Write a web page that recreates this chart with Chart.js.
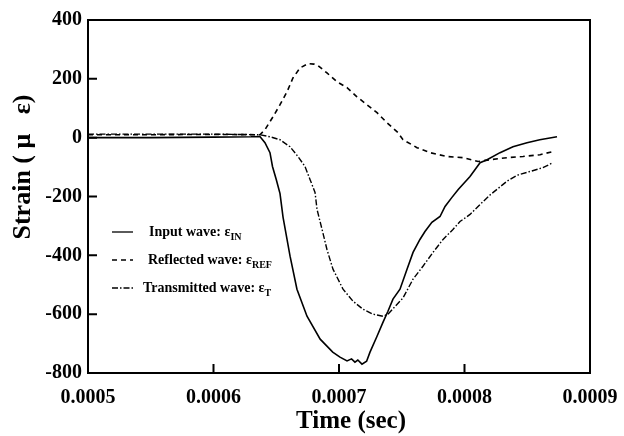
<!DOCTYPE html>
<html>
<head>
<meta charset="utf-8">
<script src="https://cdn.jsdelivr.net/npm/chart.js@4.4.0/dist/chart.umd.min.js"></script>
<style>
html,body{margin:0;padding:0;background:#fff}
</style>
</head>
<body>
<canvas id="c" width="624" height="436"></canvas>
<script>
// values
const inputTime = [0.0005,0.00055,0.0006,0.00063,0.000637,0.000641,0.000645,0.000647,0.00065,0.000653,0.0006554,0.000661,0.0006665,0.0006745,0.000685,0.000695,0.0007008,0.0007064,0.00071,0.0007127,0.000715,0.0007183,0.000722,0.0007247,0.0007303,0.0007351,0.000739,0.000743,0.0007486,0.0007542,0.000759,0.0007645,0.0007685,0.000774,0.0007805,0.0007845,0.00079,0.000795,0.0008044,0.0008124,0.000818,0.0008283,0.0008386,0.0008498,0.00086,0.0008737]
const inputStrain = [0,0,2,3,4,-17,-51,-98,-142,-190,-270,-403,-515,-607,-685,-729,-746,-759,-752,-763,-756,-770,-760,-729,-675,-627,-590,-549,-515,-447,-390,-346,-319,-288,-268,-234,-203,-176,-132,-85,-75,-51,-31,-17,-7,3]

const reflTime = [0.0005,0.00055,0.0006,0.000637,0.000641,0.0006474,0.000653,0.0006586,0.0006633,0.0006689,0.0006753,0.00068,0.0006833,0.0006904,0.0006984,0.0007064,0.0007143,0.0007223,0.0007303,0.0007382,0.000747,0.000751,0.0007622,0.0007725,0.000786,0.0007988,0.0008108,0.0008203,0.0008339,0.0008466,0.0008602,0.0008705]
const reflStrain = [10,10,11,10,27,71,112,156,203,237,252,250,245,220,190,170,139,112,85,51,17,-7,-34,-51,-64,-68,-81,-75,-68,-64,-58,-47]

const transTime = [0.0005,0.00055,0.0006,0.000637,0.000645,0.000653,0.000661,0.0006673,0.0006729,0.0006769,0.0006809,0.0006825,0.0006865,0.0006904,0.0006952,0.0007032,0.0007112,0.0007191,0.0007271,0.0007351,0.000739,0.000751,0.000759,0.0007669,0.0007749,0.0007829,0.0007908,0.0007964,0.0008044,0.0008124,0.0008203,0.0008339,0.0008418,0.0008522,0.0008625,0.0008705]
const transStrain = [12,12,12,10,3,-7,-31,-64,-98,-142,-186,-244,-312,-380,-447,-515,-556,-583,-600,-607,-600,-545,-481,-437,-390,-346,-312,-285,-261,-227,-195,-148,-128,-115,-102,-85]

const xTicks = [0.0005,0.0006,0.0007,0.0008,0.0009]
const yTicks = [-800,-600,-400,-200,0,200,400]

const legendLabels = ["Input wave: \u03b5","Reflected wave: \u03b5","Transmitted wave: \u03b5"]
const legendSubs = ["IN","REF","T"]

function pts(t,v){
    let out = []
    for (let i=0;i<t.length;i++){out.push({x:t[i],y:v[i]})}
    return out
}

const dashes = [[],[5,4],[6,2,1.5,2]]

const framePlugin = {
    id:"frame",
    afterDraw(chart){
        const ctx = chart.ctx
        const a = chart.chartArea
        const xs = chart.scales.x, ys = chart.scales.y
        ctx.save()
        ctx.strokeStyle = "#000"
        ctx.lineWidth = 2
        ctx.strokeRect(a.left,a.top,a.right-a.left,a.bottom-a.top)
        // inward ticks
        ctx.beginPath()
        for (let v of xTicks){
            let p = xs.getPixelForValue(v)
            ctx.moveTo(p,a.bottom); ctx.lineTo(p,a.bottom-9)
        }
        for (let v of yTicks){
            let p = ys.getPixelForValue(v)
            ctx.moveTo(a.left,p); ctx.lineTo(a.left+9,p)
        }
        ctx.stroke()

        ctx.fillStyle = "#000"
        ctx.font = "bold 20px 'Liberation Serif'"
        ctx.textAlign = "right"
        ctx.textBaseline = "middle"
        for (let v of yTicks){
            ctx.fillText(String(v),82,ys.getPixelForValue(v))
        }
        ctx.textAlign = "center"
        ctx.textBaseline = "alphabetic"
        for (let v of xTicks){
            ctx.fillText(v.toFixed(4),xs.getPixelForValue(v),403)
        }

        // axis titles
        ctx.font = "bold 25px 'Liberation Serif'"
        ctx.fillText("Time (sec)",351,428)
        ctx.save()
        ctx.translate(30,167)
        ctx.rotate(-Math.PI/2)
        ctx.font = "bold 26px 'Liberation Serif'"
        ctx.fillText("Strain ( \u03bc   \u03b5)",0,0)
        ctx.restore()

        // legend
        const rows = [232,260,288]
        const textX = [149,148,143]
        for (let i=0;i<3;i++){
            ctx.setLineDash(dashes[i])
            ctx.lineWidth = 1.3
            ctx.beginPath()
            ctx.moveTo(112,rows[i]); ctx.lineTo(133,rows[i])
            ctx.stroke()
            ctx.setLineDash([])
            ctx.textAlign = "left"
            ctx.font = "bold 14px 'Liberation Serif'"
            ctx.fillText(legendLabels[i],textX[i],rows[i]+4)
            let w = ctx.measureText(legendLabels[i]).width
            ctx.font = "bold 10px 'Liberation Serif'"
            ctx.fillText(legendSubs[i],textX[i]+w,rows[i]+8)
        }
        ctx.restore()
    }
}

const chart = new Chart(document.getElementById("c").getContext("2d"),{
    type:"line",
    data:{
        datasets:[
            {data:pts(inputTime,inputStrain),borderColor:"#000",borderWidth:1.6,borderDash:dashes[0]},
            {data:pts(reflTime,reflStrain),borderColor:"#000",borderWidth:1.6,borderDash:dashes[1]},
            {data:pts(transTime,transStrain),borderColor:"#000",borderWidth:1.4,borderDash:dashes[2]}
        ]
    },
    options:{
        responsive:false,
        animation:false,
        elements:{point:{radius:0},line:{tension:0}},
        layout:{padding:{left:88,right:34,top:20,bottom:63}},
        plugins:{legend:{display:false},tooltip:{enabled:false}},
        scales:{
            x:{type:"linear",min:0.0005,max:0.0009,
               afterFit(s){s.height = 0},
               ticks:{display:false},grid:{display:false},border:{display:false}},
            y:{type:"linear",min:-800,max:400,
               afterFit(s){s.width = 0},
               ticks:{display:false},grid:{display:false},border:{display:false}}
        }
    },
    plugins:[framePlugin]
})
</script>
</body>
</html>
